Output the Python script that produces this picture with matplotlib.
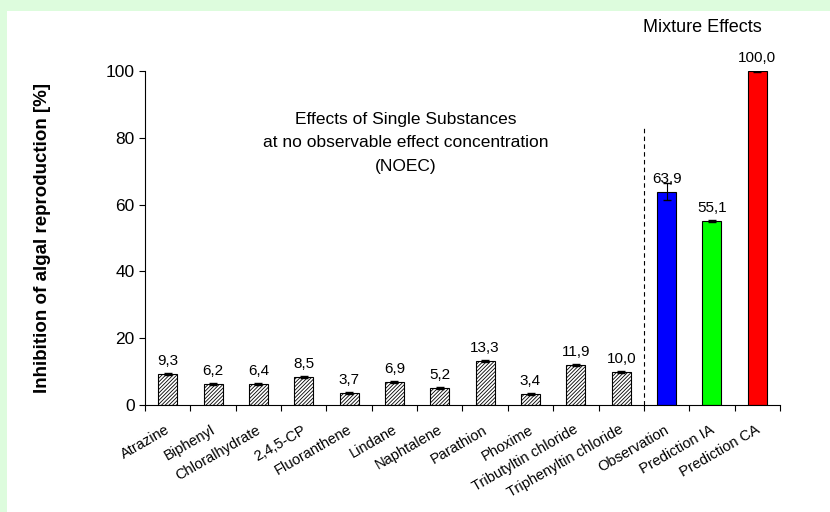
import numpy as np
import matplotlib
matplotlib.use("Agg")
import matplotlib.pyplot as plt
from matplotlib.patches import Rectangle

plt.rcParams['font.family'] = ['Liberation Sans', 'DejaVu Sans']
plt.rcParams['hatch.color'] = '#6a6a6a'
plt.rcParams['hatch.linewidth'] = 0.6

# data
substances = ["Atrazine", "Biphenyl", "Chloralhydrate", "2,4,5-CP", "Fluoranthene",
              "Lindane", "Naphtalene", "Parathion", "Phoxime", "Tributyltin chloride",
              "Triphenyltin chloride"]
single_values = [9.3, 6.2, 6.4, 8.5, 3.7, 6.9, 5.2, 13.3, 3.4, 11.9, 10.0]
single_err = [0.3] * 11

mixture = ["Observation", "Prediction IA", "Prediction CA"]
mixture_values = [63.9, 55.1, 100.0]
mixture_err = [2.5, 0.3, 0.3]
mixture_colors = ["#0000ff", "#00ff00", "#ff0000"]

fig = plt.figure(figsize=(8.3, 5.12), dpi=100)
fig.patch.set_facecolor('#ddfcdd')
# white panel inside the green border
bg = fig.add_axes([0.009, 0, 0.991, 0.979], zorder=-10)
bg.axis('off')
bg.add_patch(Rectangle((0, 0), 1, 1, transform=bg.transAxes, facecolor='white',
                       edgecolor='none'))

ax = fig.add_axes([0.1747, 0.209, 0.765, 0.652])
ax.set_facecolor('none')

x_single = np.arange(len(substances))
x_mix = np.arange(len(substances), len(substances) + len(mixture))

ax.bar(x_single, single_values, width=0.42, color='white', edgecolor='black',
       linewidth=0.8, hatch='/////////', zorder=2)
ax.errorbar(x_single, single_values, yerr=single_err, fmt='none', ecolor='black',
            elinewidth=0.8, capsize=3, capthick=1, zorder=3)
ax.bar(x_mix, mixture_values, width=0.42, color=mixture_colors, edgecolor='black',
       linewidth=0.8, zorder=2)
ax.errorbar(x_mix, mixture_values, yerr=mixture_err, fmt='none', ecolor='black',
            elinewidth=0.8, capsize=3, capthick=1, zorder=3)

all_x = list(x_single) + list(x_mix)
all_v = single_values + mixture_values
for xi, v in zip(all_x, all_v):
    ax.text(xi, v + 1.8, f"{v:.1f}".replace('.', ','), ha='center', va='bottom',
            fontsize=11, clip_on=False)

ax.plot([10.5, 10.5], [0, 83], color='black', linestyle=(0, (4, 3)), linewidth=0.8)

ax.text(5.25, 78.5, "Effects of Single Substances\nat no observable effect concentration\n(NOEC)",
        ha='center', va='center', fontsize=12.5, linespacing=1.7)
ax.text(11.8, 113, "Mixture Effects", ha='center', va='center', fontsize=13, clip_on=False)

ax.set_xlim(-0.5, 13.5)
ax.set_ylim(0, 100)
ax.set_yticks([0, 20, 40, 60, 80, 100])
ax.tick_params(axis='y', labelsize=12.5, length=4, direction='out')

ax.set_xticks(np.arange(-0.5, 14, 1))
ax.set_xticklabels([])
ax.tick_params(axis='x', length=4, direction='out')
labels = substances + mixture
for xi, lab in zip(all_x, labels):
    ax.text(xi - 0.05, -5.3, lab, rotation=30, ha='right', va='top', rotation_mode='anchor',
            fontsize=10.5, clip_on=False)

ax.spines['top'].set_visible(False)
ax.spines['right'].set_visible(False)

ax.set_ylabel("Inhibition of algal reproduction [%]", fontsize=13.5, fontweight='bold')
ax.yaxis.set_label_coords(-0.148, 0.5)

fig.savefig("out.png", dpi=100, facecolor=fig.get_facecolor())
